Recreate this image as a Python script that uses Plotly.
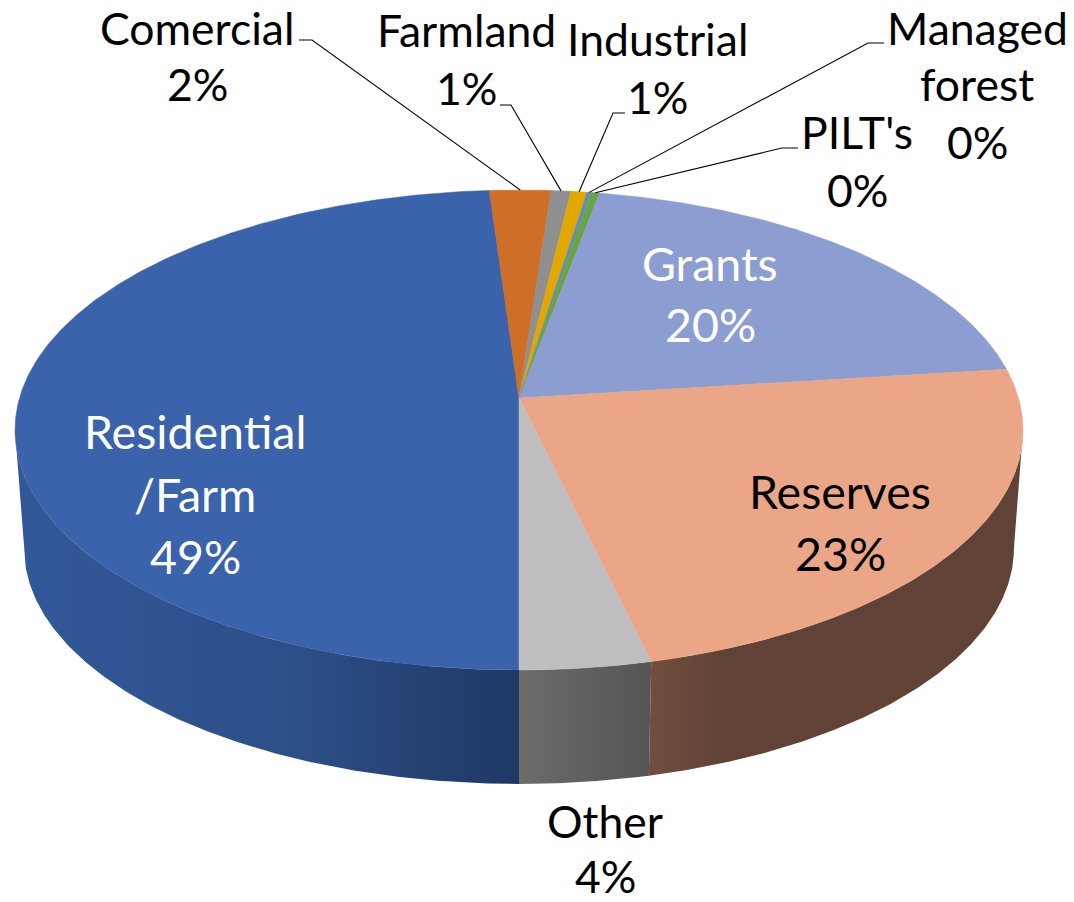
import numpy as np
import plotly.graph_objects as go

# ---- data ----
categories = ["Residential/Farm", "Comercial", "Farmland", "Industrial",
              "Managed forest", "PILT's", "Grants", "Reserves", "Other"]
values = [48.93, 2.23, 0.72, 0.59, 0.14, 0.31, 20.1, 23.28, 3.7]
percent_text = ["49%", "2%", "1%", "1%", "0%", "0%", "20%", "23%", "4%"]
label_lines = [["Residential", "/Farm"], ["Comercial"], ["Farmland"], ["Industrial"],
               ["Managed", "forest"], ["PILT's"], ["Grants"], ["Reserves"], ["Other"]]

# ---- styles ----
top_colors = ["#3A63AB", "#CF6E27", "#8F8F8F", "#E3A800", "#5B8CC8",
              "#6AA344", "#8C9ED1", "#EBA687", "#BEBEBE"]
wall_gradients = {
    0: [[0, "#33589A"], [0.55, "#2D4F88"], [1, "#1F3864"]],
    7: [[0, "#724E3E"], [0.2, "#604336"], [1, "#604336"]],
    8: [[0, "#6C6C6C"], [1, "#545454"]],
}
text_font = "Lato"
text_colors = ["white", "black", "black", "black", "black", "black", "white", "black", "black"]
line_y_positions = [[431, 494, 556], [27, 83], [29, 87], [38, 96], [27, 83, 141],
                    [131, 189], [263, 324], [491, 553], [820, 875]]
line_x_positions = [195, 197, 466, 657, 977, 857, 710, 840, 605]
font_sizes = [46.5, 44.5, 44.5, 44.5, 44.5, 44.5, 46.5, 46.5, 44.5]
leader_anchor = {1: [(299, 40), (312, 40)], 2: [(500, 105), (511, 105)],
                 3: [(625, 113), (613, 113)], 4: [(884, 43), (868, 43)],
                 5: [(798, 148), (782, 148)]}

# ---- projection of the tilted disc ----
CX, CY = 519.0, 398.0
A, B, P = 499.5, 235.7, 0.1333
SCALE_BOTTOM, VANISH_Y = 0.982, 7000.0
START_DEG = 180.0
SILHOUETTE_RIGHT = float(np.degrees(np.arccos(-P)))
SILHOUETTE_LEFT = 360.0 - SILHOUETTE_RIGHT


def top_point(deg):
    r = np.radians(deg)
    X, Y = np.sin(r), np.cos(r)
    w = 1 + P * Y
    return CX + A * X / w, CY - B * Y / w


def bottom_point(deg):
    x, y = top_point(deg)
    return CX + SCALE_BOTTOM * (x - CX), VANISH_Y + SCALE_BOTTOM * (y - VANISH_Y)


shares = np.array(values) / sum(values) * 360
edges = START_DEG + np.concatenate([[0], np.cumsum(shares)])

fig = go.Figure()


def poly(xs, ys, **kw):
    fig.add_trace(go.Scatter(x=xs, y=ys, mode="lines", fill="toself",
                             hoverinfo="skip", showlegend=False, **kw))


# side walls first, clipped to the disc's silhouette
for i, grad in wall_gradients.items():
    a0, a1 = edges[i], edges[i + 1]
    if i == 0:
        a1 = SILHOUETTE_LEFT
    if i == 7:
        a0 = SILHOUETTE_RIGHT + 360.0
    d = np.linspace(a0, a1, 160)
    tx, ty = top_point(d)
    bx, by = bottom_point(d)
    poly(np.r_[tx, bx[::-1]], np.r_[ty, by[::-1]],
         line=dict(width=0, color=grad[-1][1]),
         fillgradient=dict(type="horizontal", colorscale=grad))

# top wedges
for i, c in enumerate(top_colors):
    d = np.linspace(edges[i], edges[i + 1], max(4, int(shares[i] * 2)))
    tx, ty = top_point(d)
    poly(np.r_[CX, tx, CX], np.r_[CY, ty, CY], line=dict(width=0.5, color=c), fillcolor=c)

# leader lines
for i, pts in leader_anchor.items():
    ex, ey = top_point((edges[i] + edges[i + 1]) / 2)
    fig.add_trace(go.Scatter(x=[p[0] for p in pts] + [ex], y=[p[1] for p in pts] + [ey],
                             mode="lines", line=dict(color="black", width=1.1),
                             hoverinfo="skip", showlegend=False))

# labels
for i, lines in enumerate(label_lines):
    for text, y in zip(lines + [percent_text[i]], line_y_positions[i]):
        fig.add_annotation(x=line_x_positions[i], y=y, text=text, showarrow=False,
                           xanchor="center", yanchor="middle",
                           font=dict(family=text_font, size=font_sizes[i], color=text_colors[i]))

fig.update_layout(
    width=1074, height=902, margin=dict(l=0, r=0, t=0, b=0),
    paper_bgcolor="white", plot_bgcolor="white", showlegend=False,
    xaxis=dict(range=[0, 1074], visible=False, fixedrange=True),
    yaxis=dict(range=[902, 0], visible=False, fixedrange=True),
)
fig.write_html("out.html", config={"displayModeBar": False},
               post_script="document.body.style.margin='0';document.body.style.overflow='hidden';")
